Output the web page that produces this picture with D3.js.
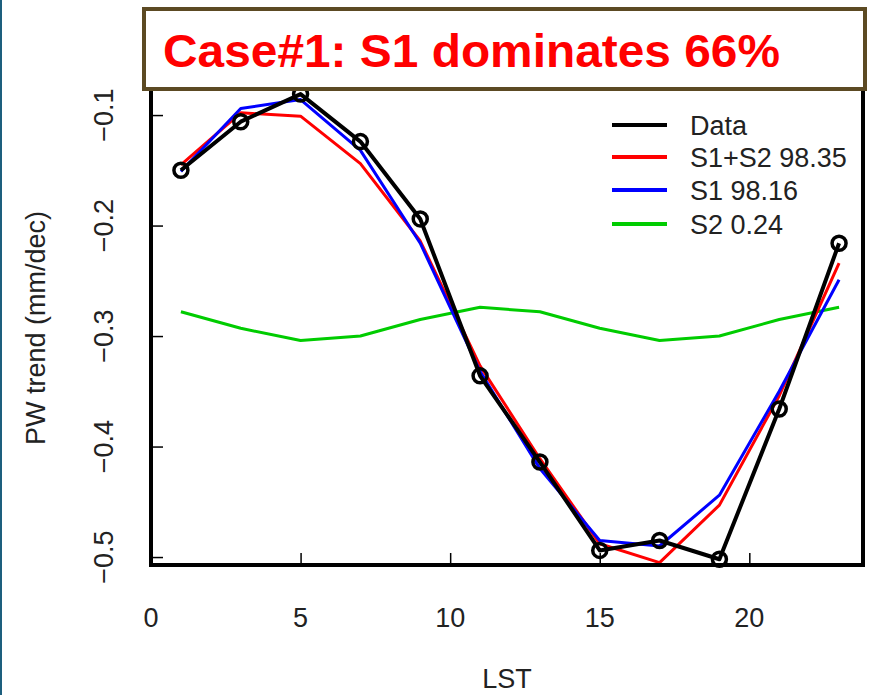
<!DOCTYPE html>
<html>
<head>
<meta charset="utf-8">
<script src="https://cdn.jsdelivr.net/npm/d3@7/dist/d3.min.js"></script>
<style>
  html, body { margin: 0; padding: 0; background: #fff; }
  svg { display: block; font-family: "Liberation Sans", Arial, sans-serif; }
</style>
</head>
<body>
<svg id="chart" width="871" height="695"></svg>
<script>
// Local solar time (hours)
const lst = [1, 3, 5, 7, 9, 11, 13, 15, 17, 19, 21, 23];

// PW trend values (mm/dec)
const dataVals = [-0.150, -0.106, -0.081, -0.124, -0.194, -0.336, -0.414, -0.494, -0.485, -0.502, -0.366, -0.216];
const s1s2Vals = [-0.145, -0.098, -0.101, -0.144, -0.214, -0.327, -0.411, -0.488, -0.505, -0.453, -0.354, -0.234];
const s1Vals   = [-0.151, -0.094, -0.086, -0.132, -0.216, -0.332, -0.420, -0.485, -0.490, -0.444, -0.350, -0.249];
const s2Vals   = [-0.278, -0.293, -0.304, -0.300, -0.285, -0.274, -0.278, -0.293, -0.304, -0.300, -0.285, -0.274];

const xTicks = [0, 5, 10, 15, 20];
const yTicks = [-0.1, -0.2, -0.3, -0.4, -0.5];

const legendLabels = ["Data", "S1+S2 98.35", "S1 98.16", "S2 0.24"];
const titleText = "Case#1: S1 dominates 66%";

const svg = d3.select("#chart");

// slide edge on the left
svg.append("rect").attr("x", 0).attr("y", 0).attr("width", 2).attr("height", 695).attr("fill", "#1d5f7e");

const plot = { left: 151, right: 863, top: 66, bottom: 565 };

const x = d3.scaleLinear().domain([0, 23.8]).range([plot.left, plot.right]);
const y = d3.scaleLinear().domain([-0.5072, -0.0556]).range([plot.bottom, plot.top]);

// ticks pointing inward
svg.append("g")
    .attr("transform", `translate(0,${plot.bottom})`)
    .call(d3.axisTop(x).tickValues(xTicks).tickSize(12).tickFormat(""))
    .call(g => g.select(".domain").remove())
    .selectAll("line").attr("stroke", "#000").attr("stroke-width", 1.5);

svg.append("g")
    .attr("transform", `translate(${plot.left},0)`)
    .call(d3.axisRight(y).tickValues(yTicks).tickSize(12).tickFormat(""))
    .call(g => g.select(".domain").remove())
    .selectAll("line").attr("stroke", "#000").attr("stroke-width", 1.5);

// tick labels
svg.append("g").selectAll("text")
    .data(xTicks)
    .join("text")
    .attr("x", d => x(d))
    .attr("y", 627)
    .attr("text-anchor", "middle")
    .attr("font-size", 27)
    .attr("fill", "#222")
    .text(d => d);

svg.append("g").selectAll("text")
    .data(yTicks)
    .join("text")
    .attr("transform", d => `translate(113,${y(d)}) rotate(-90)`)
    .attr("text-anchor", "middle")
    .attr("font-size", 27)
    .attr("fill", "#222")
    .text(d => d3.format(".1f")(d).replace("-", "\u2212"));

// axis titles
svg.append("text")
    .attr("x", 507).attr("y", 688)
    .attr("text-anchor", "middle")
    .attr("font-size", 27)
    .attr("fill", "#222")
    .text("LST");

svg.append("text")
    .attr("transform", "translate(45,328) rotate(-90)")
    .attr("text-anchor", "middle")
    .attr("font-size", 27)
    .attr("fill", "#222")
    .text("PW trend (mm/dec)");

// series
const series = [
    { vals: s2Vals, color: "#00cc00", width: 3 },
    { vals: s1s2Vals, color: "#ff0000", width: 3 },
    { vals: s1Vals, color: "#0000ff", width: 3 },
    { vals: dataVals, color: "#000", width: 4 }
];

const line = d3.line().x((d, i) => x(lst[i])).y(d => y(d));

svg.append("g").selectAll("path")
    .data(series)
    .join("path")
    .attr("d", d => line(d.vals))
    .attr("fill", "none")
    .attr("stroke", d => d.color)
    .attr("stroke-width", d => d.width)
    .attr("stroke-linejoin", "round");

svg.append("g").selectAll("circle")
    .data(dataVals)
    .join("circle")
    .attr("cx", (d, i) => x(lst[i]))
    .attr("cy", d => y(d))
    .attr("r", 7)
    .attr("fill", "none")
    .attr("stroke", "#000")
    .attr("stroke-width", 3.5);

// plot frame
svg.append("rect")
    .attr("x", plot.left).attr("y", plot.top)
    .attr("width", plot.right - plot.left).attr("height", plot.bottom - plot.top)
    .attr("fill", "none").attr("stroke", "#000").attr("stroke-width", 4);

// legend
const legendColors = ["#000", "#ff0000", "#0000ff", "#00cc00"];
const legendY = [125, 157, 190, 224];
const lg = svg.append("g");
legendLabels.forEach((lab, i) => {
    lg.append("line")
        .attr("x1", 612).attr("x2", 667)
        .attr("y1", legendY[i]).attr("y2", legendY[i])
        .attr("stroke", legendColors[i]).attr("stroke-width", 4);
    lg.append("text")
        .attr("x", 690).attr("y", legendY[i])
        .attr("dy", "0.36em")
        .attr("font-size", 27)
        .attr("fill", "#222")
        .text(lab);
});

// title box
svg.append("rect")
    .attr("x", 144).attr("y", 9)
    .attr("width", 721).attr("height", 80)
    .attr("fill", "#fff")
    .attr("stroke", "#5c4a23").attr("stroke-width", 4);

svg.append("text")
    .attr("x", 163).attr("y", 67)
    .attr("font-size", 47)
    .attr("font-weight", "bold")
    .attr("fill", "#ff0000")
    .attr("textLength", 617)
    .attr("lengthAdjust", "spacingAndGlyphs")
    .text(titleText);
</script>
</body>
</html>
